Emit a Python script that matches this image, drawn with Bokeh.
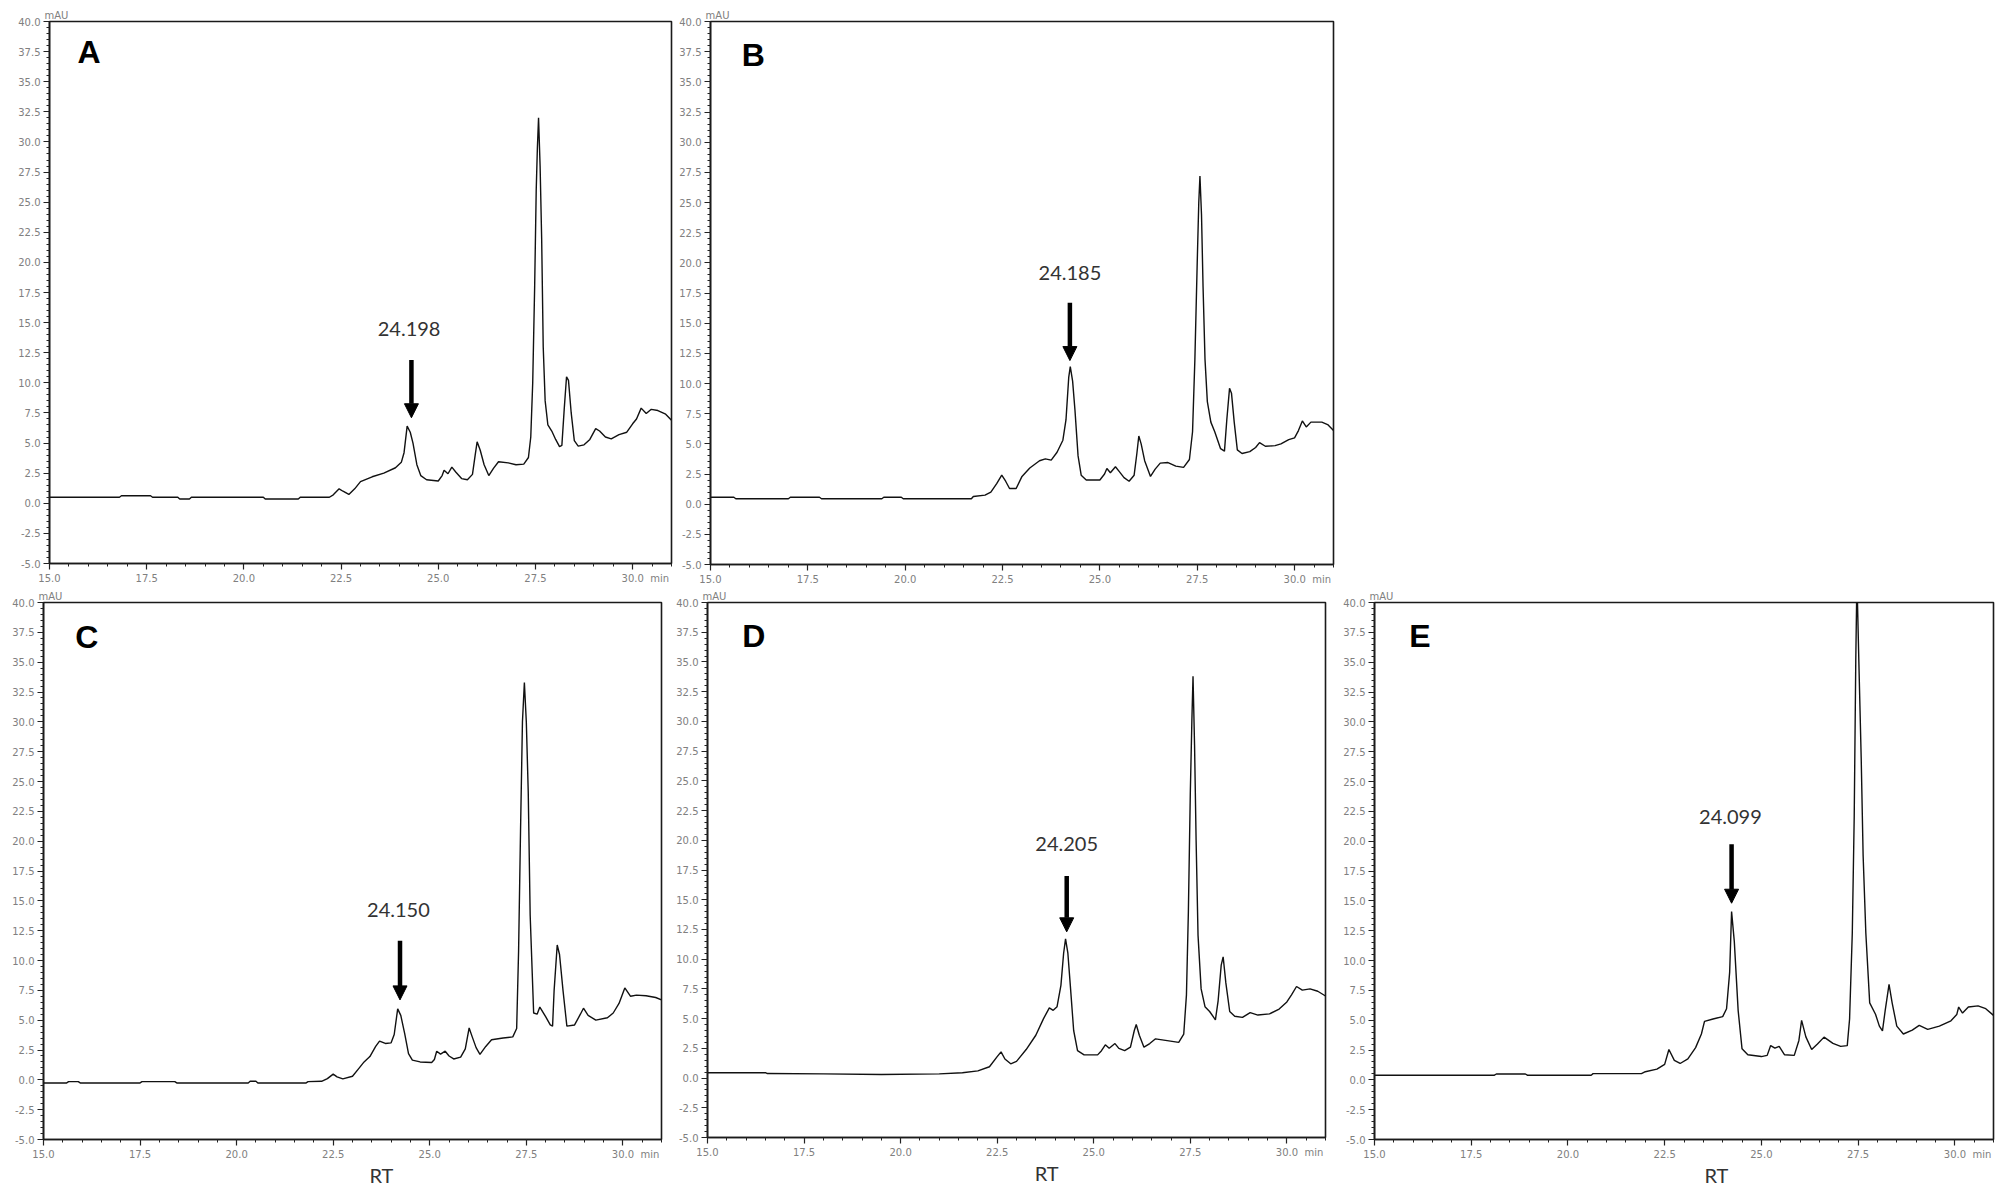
from bokeh.plotting import figure
from bokeh.layouts import row, column
from bokeh.models import (Label, Arrow, NormalHead, SingleIntervalTicker, FixedTicker,
                          PrintfTickFormatter, Range1d, LinearAxis)
from bokeh.embed import file_html
from bokeh.resources import INLINE

# ---------------- data (retention time in min, absorbance in mAU) ----------------
rt_A = [15.0,16.8,16.85,17.6,17.65,18.3,18.35,18.6,18.65,20.5,20.55,21.4,21.45,22.2,22.3,22.45,22.55,22.7,22.85,23.0,
        23.3,23.6,23.9,24.05,24.12,24.2,24.28,24.35,24.45,24.55,24.7,25.0,25.1,25.15,25.25,25.35,25.45,25.6,25.75,25.88,
        25.95,26.0,26.08,26.18,26.3,26.42,26.55,26.8,27.0,27.2,27.32,27.38,27.43,27.48,27.52,27.55,27.58,27.62,27.66,27.7,
        27.75,27.82,27.92,28.02,28.12,28.18,28.24,28.3,28.35,28.42,28.5,28.6,28.75,28.9,29.05,29.15,29.3,29.45,29.65,29.85,
        30.0,30.1,30.22,30.35,30.48,30.65,30.85,31.0]
au_A = [0.5,0.5,0.62,0.62,0.5,0.5,0.35,0.35,0.5,0.5,0.35,0.35,0.5,0.5,0.7,1.2,1.0,0.73,1.2,1.8,
        2.2,2.5,2.95,3.4,4.2,6.4,5.9,5.0,3.2,2.3,1.95,1.85,2.3,2.75,2.45,3.0,2.6,2.05,1.95,2.4,
        4.0,5.1,4.4,3.2,2.3,2.9,3.45,3.35,3.2,3.25,3.8,5.5,10.0,18.0,26.0,29.5,32.0,28.0,22.0,13.0,
        8.5,6.5,6.0,5.3,4.7,4.8,7.8,10.5,10.2,7.5,5.2,4.75,4.85,5.3,6.2,6.0,5.5,5.35,5.7,5.9,
        6.6,7.0,7.9,7.45,7.8,7.7,7.4,6.9]

rt_B = [15.0,15.6,15.65,17.0,17.05,17.8,17.85,19.4,19.45,19.9,19.95,21.7,21.75,22.05,22.2,22.35,22.48,22.58,22.68,22.85,
        23.0,23.2,23.45,23.6,23.75,23.9,24.05,24.13,24.2,24.24,24.3,24.36,24.44,24.52,24.65,25.0,25.12,25.18,25.27,25.4,
        25.5,25.62,25.75,25.88,25.95,26.0,26.06,26.15,26.3,26.42,26.55,26.75,26.95,27.15,27.3,27.38,27.44,27.5,27.54,27.57,
        27.61,27.65,27.7,27.76,27.85,27.95,28.1,28.2,28.26,28.33,28.38,28.45,28.53,28.65,28.85,29.0,29.1,29.25,29.5,29.65,
        29.85,30.0,30.1,30.2,30.3,30.42,30.7,30.85,31.0]
au_B = [0.57,0.57,0.45,0.45,0.57,0.57,0.45,0.45,0.57,0.57,0.45,0.45,0.64,0.75,1.0,1.7,2.4,1.9,1.3,1.3,
        2.3,3.0,3.6,3.75,3.65,4.3,5.3,7.0,10.5,11.4,10.2,7.8,4.0,2.4,2.0,2.0,2.5,2.95,2.6,3.1,
        2.7,2.2,1.9,2.4,4.2,5.65,5.0,3.6,2.3,2.9,3.4,3.45,3.15,3.05,3.7,6.0,12.0,20.0,25.0,27.2,
        24.0,18.0,12.0,8.5,6.8,6.0,4.6,4.4,7.0,9.6,9.2,6.8,4.5,4.2,4.35,4.7,5.1,4.8,4.85,5.0,
        5.35,5.5,6.1,6.9,6.4,6.8,6.8,6.6,6.1]

rt_C = [15.0,15.6,15.65,15.9,15.95,17.5,17.55,18.4,18.45,20.3,20.35,20.5,20.55,21.8,21.85,22.2,22.35,22.5,22.6,22.75,
        23.0,23.15,23.3,23.45,23.6,23.7,23.85,24.0,24.08,24.17,24.25,24.35,24.45,24.55,24.75,25.05,25.12,25.18,25.28,25.4,
        25.5,25.62,25.8,25.92,26.02,26.1,26.2,26.3,26.45,26.6,26.9,27.15,27.25,27.3,27.35,27.4,27.45,27.5,27.55,27.6,
        27.69,27.78,27.85,28.0,28.12,28.18,28.22,28.3,28.36,28.45,28.55,28.75,28.9,28.98,29.1,29.3,29.6,29.75,29.9,30.05,
        30.2,30.35,30.6,30.85,31.0]
au_C = [-0.26,-0.26,-0.15,-0.15,-0.26,-0.26,-0.15,-0.15,-0.26,-0.26,-0.12,-0.12,-0.26,-0.26,-0.15,-0.12,0.1,0.48,0.25,0.08,
        0.3,0.9,1.5,1.95,2.8,3.25,3.05,3.1,3.8,5.95,5.4,3.9,2.2,1.65,1.5,1.45,1.7,2.4,2.15,2.4,
        2.0,1.75,1.9,2.6,4.35,3.6,2.7,2.14,2.8,3.36,3.5,3.6,4.3,10.8,20.8,30.0,33.3,30.0,24.1,13.8,
        5.6,5.5,6.1,5.3,4.6,4.5,7.5,11.3,10.5,7.5,4.5,4.6,5.5,6.0,5.4,5.0,5.2,5.6,6.4,7.7,
        7.0,7.1,7.05,6.9,6.7]

rt_D = [15.0,16.5,16.55,18.0,19.5,21.0,21.6,22.0,22.3,22.5,22.6,22.7,22.85,23.0,23.25,23.5,23.7,23.85,23.95,24.05,
        24.15,24.22,24.27,24.33,24.4,24.48,24.58,24.75,25.1,25.2,25.3,25.4,25.55,25.65,25.8,25.95,26.05,26.1,26.18,26.3,
        26.45,26.6,26.9,27.2,27.33,27.4,27.45,27.5,27.54,27.57,27.61,27.65,27.7,27.78,27.88,28.0,28.15,28.22,28.3,28.35,
        28.42,28.52,28.65,28.85,29.05,29.25,29.55,29.8,30.0,30.12,30.25,30.4,30.6,30.8,31.0]
au_D = [0.45,0.45,0.38,0.35,0.3,0.35,0.45,0.6,0.95,1.8,2.2,1.6,1.2,1.4,2.4,3.6,5.0,5.9,5.7,6.0,
        7.8,10.5,11.7,10.5,7.5,4.0,2.3,1.95,1.95,2.3,2.8,2.5,2.9,2.5,2.3,2.6,4.0,4.5,3.6,2.6,
        2.9,3.3,3.15,3.0,3.7,7.0,14.0,24.0,30.0,33.8,28.0,20.0,12.0,7.5,6.0,5.6,4.9,6.5,9.5,10.2,
        8.0,5.6,5.2,5.1,5.5,5.3,5.4,5.8,6.4,7.0,7.7,7.4,7.5,7.3,6.9]

rt_E = [15.0,18.1,18.15,18.9,18.95,20.6,20.65,21.9,22.0,22.3,22.5,22.61,22.75,22.9,23.1,23.3,23.45,23.53,23.75,24.0,
        24.1,24.18,24.23,24.3,24.4,24.5,24.65,25.0,25.15,25.24,25.35,25.46,25.6,25.85,25.97,26.04,26.15,26.3,26.45,26.62,
        26.85,27.05,27.22,27.28,27.35,27.4,27.44,27.47,27.52,27.58,27.63,27.7,27.8,27.95,28.05,28.13,28.2,28.3,28.38,28.5,
        28.67,28.9,29.08,29.3,29.6,29.9,30.05,30.1,30.2,30.35,30.6,30.8,31.0]
au_E = [0.39,0.39,0.49,0.49,0.39,0.39,0.52,0.52,0.68,0.9,1.3,2.54,1.63,1.37,1.75,2.7,3.84,4.9,5.1,5.3,
        5.96,9.0,14.1,11.6,5.8,2.6,2.1,1.95,2.05,2.87,2.65,2.8,2.1,2.05,3.3,4.98,3.6,2.54,3.0,3.58,
        3.05,2.8,2.87,5.1,12.3,22.1,35.1,42.0,35.0,27.0,18.8,12.3,6.45,5.5,4.5,4.1,5.8,8.0,6.45,4.5,
        3.84,4.17,4.56,4.23,4.5,4.95,5.47,6.1,5.6,6.1,6.2,5.96,5.4]

panel_letters = ["A", "B", "C", "D", "E"]
peak_labels = ["24.198", "24.185", "24.150", "24.205", "24.099"]
x_unit = "min"
y_unit = "mAU"
x_title = "RT"

TICK_FONT = "DejaVu Sans"
NUM_FONT = "Lato"
GRAY = "#808080"
NB = "\u00a0"


def bare_axis(ticks, overrides, font, size, color, standoff):
    ax = LinearAxis(ticker=FixedTicker(ticks=ticks), major_label_overrides=overrides)
    ax.axis_line_color = None
    ax.major_tick_line_color = None
    ax.minor_tick_line_color = None
    ax.major_tick_in = 0
    ax.major_tick_out = 0
    ax.minor_tick_in = 0
    ax.minor_tick_out = 0
    ax.major_label_text_font = font
    ax.major_label_text_font_size = size
    ax.major_label_text_color = color
    ax.major_label_standoff = standoff
    return ax


def make_panel(rt, au, letter, peak_text, fw, fh, bl, br, bt, bb,
               letter_pos, arrow, label_pos, rt_x=None):
    p = figure(frame_width=fw, frame_height=fh,
               x_range=Range1d(15, 31), y_range=Range1d(-5, 40),
               output_backend="svg", toolbar_location=None,
               min_border_left=bl, min_border_right=br,
               min_border_top=bt, min_border_bottom=bb,
               background_fill_color="white", border_fill_color="white")
    p.grid.visible = False
    p.outline_line_color = "#1a1a1a"
    p.outline_line_width = 1.6

    for ax in (p.xaxis[0], p.yaxis[0]):
        ax.ticker = SingleIntervalTicker(interval=2.5, num_minor_ticks=5)
        ax.formatter = PrintfTickFormatter(format="%.1f")
        ax.axis_line_color = "#1a1a1a"
        ax.axis_line_width = 1.6
        ax.major_tick_line_color = "#222222"
        ax.minor_tick_line_color = "#222222"
        ax.major_tick_line_width = 1.2
        ax.minor_tick_line_width = 1
        ax.major_tick_in = 0
        ax.major_tick_out = 6
        ax.minor_tick_in = 0
        ax.minor_tick_out = 3
        ax.major_label_text_font = TICK_FONT
        ax.major_label_text_font_size = "10px"
        ax.major_label_text_color = GRAY
        ax.major_label_standoff = 3
    # unit "min" written after the last x tick label (padded so 30.0 stays centred)
    p.xaxis[0].major_label_overrides = {30.0: NB * 8 + "30.0" + NB * 2 + x_unit}

    p.add_layout(bare_axis([15.18], {15.18: y_unit}, TICK_FONT, "10px", GRAY, 1), "above")
    if rt_x is not None:
        p.add_layout(bare_axis([rt_x], {rt_x: x_title}, NUM_FONT, "20px", "#333333", 0), "below")

    p.line(rt, au, line_color="#111111", line_width=1.4)

    # panel letter
    p.add_layout(Label(x=letter_pos[0], y=letter_pos[1], text=letter,
                       text_align="left", text_baseline="middle",
                       text_font="Liberation Sans", text_font_style="bold",
                       text_font_size="32px", text_color="black"))

    # peak annotation
    p.add_layout(Arrow(x_start=arrow[0], y_start=arrow[1], x_end=arrow[0], y_end=arrow[2],
                       line_color="black", line_width=4.5,
                       end=NormalHead(size=14, line_color="black", fill_color="black",
                                      line_width=1)))
    p.add_layout(Label(x=label_pos[0], y=label_pos[1], text=peak_text,
                       text_align="center", text_baseline="middle",
                       text_font=NUM_FONT, text_font_size="20px",
                       text_color="#333333"))
    return p


pA = make_panel(rt_A, au_A, panel_letters[0], peak_labels[0], 622, 542, 49, 3, 21, 24,
                (15.72, 37.45), (24.31, 11.9, 7.1), (24.25, 14.45))
pB = make_panel(rt_B, au_B, panel_letters[1], peak_labels[1], 623, 543, 36, 10, 21, 23,
                (15.8, 37.2), (24.23, 16.7, 11.9), (24.23, 19.15))
pC = make_panel(rt_C, au_C, panel_letters[2], peak_labels[2], 618, 537, 43, 10, 12, 50,
                (15.82, 37.15), (24.23, 11.65, 6.7), (24.19, 14.2), rt_x=23.75)
pD = make_panel(rt_D, au_D, panel_letters[3], peak_labels[3], 618, 535, 36, 13, 12, 52,
                (15.9, 37.15), (24.3, 17.0, 12.3), (24.3, 19.65), rt_x=23.78)
pE = make_panel(rt_E, au_E, panel_letters[4], peak_labels[4], 619, 537, 36, 5, 10, 52,
                (15.9, 37.2), (24.23, 19.74, 14.8), (24.2, 22.0), rt_x=23.84)

layout = column(row(pA, pB), row(pC, pD, pE))

open("out.html", "w").write(file_html(layout, INLINE))
